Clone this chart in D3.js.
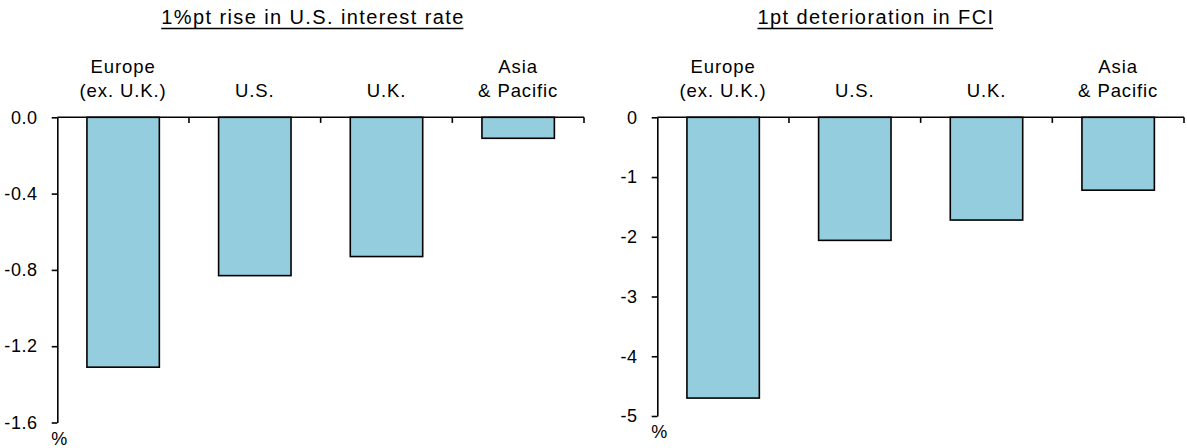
<!DOCTYPE html>
<html><head><meta charset="utf-8">
<script src="https://cdn.jsdelivr.net/npm/d3@7"></script>
<style>body{margin:0;background:#fff}svg{display:block}text{font-family:"Liberation Sans",Arial,sans-serif;fill:#000}</style>
</head><body><svg id="c" width="1187" height="448"></svg>
<script>
const categories = [["Europe","(ex. U.K.)"],["U.S."],["U.K."],["Asia","& Pacific"]];
const catKeys = ["Europe","US","UK","Asia"];
const rateValues = [-1.31, -0.83, -0.73, -0.11];
const fciValues = [-4.7, -2.06, -1.72, -1.22];
const rateTicks = [0, -0.4, -0.8, -1.2, -1.6];
const fciTicks = [0, -1, -2, -3, -4, -5];
const titles = ["1%pt rise in U.S. interest rate", "1pt deterioration in FCI"];

const svg = d3.select("#c");
const panels = [
  {title: titles[0], values: rateValues, ticks: rateTicks, dom: [-1.6, 0], fmt: d3.format(".1f"), x0: 57.3, x1: 584, y0: 117.3, y1: 422.5, tx: 313},
  {title: titles[1], values: fciValues, ticks: fciTicks, dom: [-5, 0], fmt: d3.format("d"), x0: 657.3, x1: 1184, y0: 117.3, y1: 416, tx: 876}
];
const FONT = '"Liberation Sans",Arial,sans-serif';

panels.forEach(p => {
  const g = svg.append("g");
  const x = d3.scaleBand().domain(catKeys).range([p.x0, p.x1]).paddingInner(0.45).paddingOuter(0.225);
  const y = d3.scaleLinear().domain(p.dom).range([p.y1, p.y0]);

  // title
  const t = g.append("text").attr("x", p.tx).attr("y", 24).attr("text-anchor", "middle")
    .style("font-size", "20px").style("letter-spacing", "1.4px").text(p.title);
  const bb = t.node().getBBox();
  g.append("line").attr("x1", bb.x).attr("x2", bb.x + bb.width - 1.4).attr("y1", 28.5).attr("y2", 28.5)
    .attr("stroke", "#000").attr("stroke-width", 1.4);

  // bars
  g.selectAll("rect").data(p.values).join("rect")
    .attr("x", (d, i) => x(catKeys[i]))
    .attr("width", x.bandwidth())
    .attr("y", y(0))
    .attr("height", d => y(d) - y(0))
    .attr("fill", "#94cddd").attr("stroke", "#000").attr("stroke-width", 1.6);

  // y axis
  const ya = d3.axisLeft(y).tickValues(p.ticks).tickFormat(d => p.fmt(d).replace("\u2212", "-"))
    .tickSize(5.6).tickSizeOuter(0).tickPadding(14);
  const yg = g.append("g").attr("transform", `translate(${p.x0},0)`).call(ya);
  yg.select(".domain").attr("stroke", "#000").attr("stroke-width", 1.6);
  yg.selectAll(".tick line").attr("stroke", "#000").attr("stroke-width", 1.6);
  yg.selectAll(".tick text").style("font-size", "18px").style("letter-spacing", "0.6px")
    .attr("fill", "#000").attr("font-family", FONT);

  // x axis line at zero with band boundary ticks
  const xs = d3.scaleLinear().domain([0, 4]).range([p.x0, p.x1]);
  g.append("line").attr("x1", p.x0).attr("x2", p.x1).attr("y1", y(0)).attr("y2", y(0))
    .attr("stroke", "#000").attr("stroke-width", 1.6);
  g.selectAll(".xt").data([1, 2, 3, 4]).join("line").attr("class", "xt")
    .attr("x1", d => xs(d)).attr("x2", d => xs(d))
    .attr("y1", y(0)).attr("y2", y(0) + 5.6)
    .attr("stroke", "#000").attr("stroke-width", 1.6);

  // category labels
  categories.forEach((lines, i) => {
    const cx = x(catKeys[i]) + x.bandwidth() / 2;
    const tt = g.append("text").attr("text-anchor", "middle").style("font-size", "18.5px").style("letter-spacing", "0.9px");
    lines.forEach((ln, j) => {
      tt.append("tspan").attr("x", cx).attr("y", 97 - (lines.length - 1 - j) * 24).text(ln);
    });
  });

  // unit label
  g.append("text").attr("x", p.x0 + 2).attr("y", y(p.dom[0]) + 22).attr("text-anchor", "middle")
    .style("font-size", "18px").text("%");
});
</script></body></html>
